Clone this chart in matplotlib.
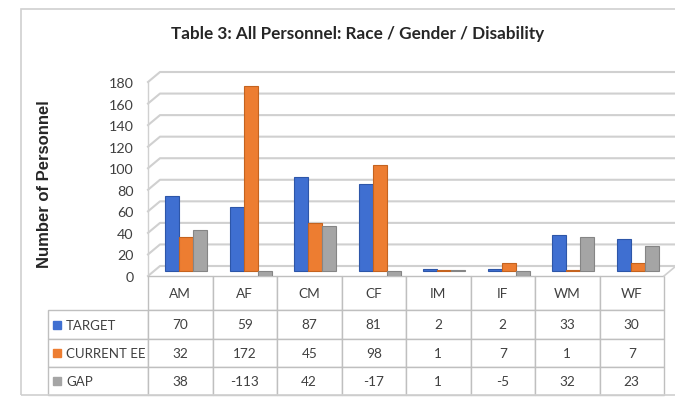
import numpy as np
import matplotlib
matplotlib.use('Agg')
import matplotlib.pyplot as plt
from matplotlib.patches import Rectangle
from matplotlib.transforms import ScaledTranslation

# Race / gender groups and the three series
categories = ['AM', 'AF', 'CM', 'CF', 'IM', 'IF', 'WM', 'WF']
series_names = ['TARGET', 'CURRENT EE', 'GAP']
target = [70, 59, 87, 81, 2, 2, 33, 30]
current_ee = [32, 172, 45, 98, 1, 7, 1, 7]
gap = [38, -113, 42, -17, 1, -5, 32, 23]
yticks = [0, 20, 40, 60, 80, 100, 120, 140, 160, 180]

colors = ['#3f6fd1', '#ed7d31', '#a5a5a5']
edges = ['#2d56a8', '#c4631f', '#858585']
grid_c = '#d0d0d0'
text_c = '#404040'

plt.rcParams['font.family'] = ['Lato', 'DejaVu Sans']

W, H = 675, 402
fig = plt.figure(figsize=(W / 100, H / 100), dpi=100)

# plot area in pixels (top-origin): x 148..664, y 83..277
left, right, top, bottom = 148, 664, 83, 277
pw, ph = right - left, bottom - top
ax = fig.add_axes([left / W, 1 - bottom / H, pw / W, ph / H])
n = len(categories)
ax.set_xlim(-0.5, n - 0.5)
ax.set_ylim(0, 180)
for s in ax.spines.values():
    s.set_visible(False)
ax.set_xticks([])
ax.set_yticks(yticks)
ax.tick_params(axis='y', length=0, pad=10.5, labelsize=10.3, labelcolor=text_c)

# 3d depth of the walls in pixels
dx_px, dy_px = 12, 10
dx, dy = dx_px * n / pw, dy_px * 180 / ph
x0 = -0.5
for t in yticks:
    ax.plot([x0, x0 + dx, n - 0.5 + dx], [t, t + dy, t + dy],
            color=grid_c, lw=1.5, clip_on=False, zorder=0)
ax.plot([x0, x0], [0, 180], color=grid_c, lw=1.0, clip_on=False, zorder=0)
# right side of the floor
ax.plot([n - 0.5, n - 0.5 + dx], [0, dy], color=grid_c, lw=1.2, clip_on=False)

# bars sit half way into the depth
half = ScaledTranslation(dx_px / 2 / 100, dy_px / 2 / 100, fig.dpi_scale_trans)
x = np.arange(n)
bw = 0.217
for i, vals in enumerate([target, current_ee, gap]):
    bars = ax.bar(x + (i - 1) * bw, vals, bw, color=colors[i],
                  edgecolor=edges[i], linewidth=0.8, zorder=2)
    for b in bars:
        b.set_transform(ax.transData + half)

# y label
fig.text(45 / W, 1 - 184 / H, 'Number of Personnel', rotation=90,
         ha='center', va='center', fontsize=12, fontweight='bold',
         color='#262626', family=['Liberation Sans', 'DejaVu Sans'])

# title
fig.text(358 / W, 1 - 34 / H, 'Table 3: All Personnel: Race / Gender / Disability',
         ha='center', va='center', fontsize=12.3, fontweight='bold', color='#262626')

# data table under the plot; first column holds the series keys
rows = [target, current_ee, gap]
cell_text = [[''] + [str(v) for v in r] for r in rows]
label_w, col_w = 100, 64.5
tab_w = label_w + n * col_w
tab_h = 396 - bottom
table = ax.table(cellText=cell_text, colLabels=[''] + categories, cellLoc='center',
                 bbox=[-label_w / pw, -tab_h / ph, tab_w / pw, tab_h / ph])
table.auto_set_font_size(False)
table.set_fontsize(9.8)
for (r, c), cell in table.get_celld().items():
    cell.set_edgecolor('#bfbfbf')
    cell.set_linewidth(1.0)
    cell.get_text().set_color(text_c)
    cell.set_width((label_w if c == 0 else col_w) / pw)
    cell.set_height((34 if r == 0 else 28) / ph)
table[0, 0].set_visible(False)

# legend keys and series names in the first column
sq = 8
for i, name in enumerate(series_names):
    yc = 312 + 28 * i + 14
    ax.add_patch(Rectangle(((53 - left) / pw, (bottom - yc - sq / 2) / ph),
                           sq / pw, sq / ph,
                           transform=ax.transAxes, color=colors[i], clip_on=False))
    ax.text((66 - left) / pw, (bottom - yc) / ph, name, transform=ax.transAxes,
            ha='left', va='center', fontsize=9.5, color=text_c)

# outer chart border
fig.add_artist(Rectangle((21 / W, 1 - 396 / H), 700 / W, 386 / H,
                         transform=fig.transFigure, fill=False,
                         edgecolor='#d0d0d0', lw=1.2))

fig.savefig('out.png', dpi=100)
